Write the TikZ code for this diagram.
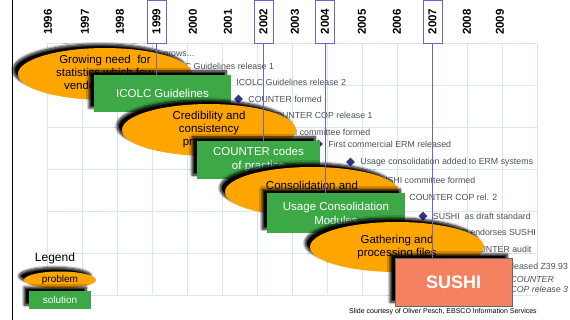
\documentclass[tikz,border=0pt]{standalone}
\usepackage{fontspec}
\setmainfont{Liberation Sans}
\usetikzlibrary{shapes.geometric,shadows.blur}

\definecolor{probfill}{RGB}{255,165,0}
\definecolor{solfill}{RGB}{60,168,70}
\definecolor{sushifill}{RGB}{244,130,96}
\definecolor{gridcol}{RGB}{214,234,238}
\definecolor{yearcol}{RGB}{102,102,204}
\definecolor{eventcol}{RGB}{78,80,92}
\definecolor{markcol}{RGB}{51,51,140}

\tikzset{
  softshadow/.style={blur shadow={shadow xshift=-5pt, shadow yshift=4pt,
      shadow blur radius=2.5pt, shadow blur steps=8, shadow opacity=100}},
  problem/.style={ellipse, fill=probfill, align=center, inner sep=0pt,
      minimum width=174pt, minimum height=50pt, softshadow,
      font=\fontsize{11.5}{13}\selectfont},
  solution/.style={rectangle, fill=solfill, text=white, align=center, inner sep=0pt,
      softshadow, font=\fontsize{11.5}{14}\selectfont},
  yearlabel/.style={rotate=90, inner sep=1pt, font=\fontsize{11.5}{12}\selectfont\bfseries},
  yearbox/.style={yearlabel, draw=yearcol, line width=0.8pt, inner sep=0pt,
      minimum width=43pt, minimum height=19pt},
  yearline/.style={yearcol, line width=0.9pt},
  gridline/.style={gridcol, line width=0.7pt},
  eventmark/.style={diamond, fill=markcol, minimum size=9pt, inner sep=0pt},
  eventtext/.style={anchor=west, text=eventcol, align=left, inner sep=2pt,
      font=\fontsize{8.8}{10.5}\selectfont},
}

\begin{document}
\begin{tikzpicture}[x=1pt, y=-1pt]
\useasboundingbox (0,0) rectangle (570,320);

% Left rule
\draw[line width=0.8pt] (12,0) -- (12,320);

% Grid
\foreach \i in {0,...,14}
    \draw[gridline] (47+35*\i, 43) -- (47+35*\i, 295);
\foreach \j in {0,...,6}
    \draw[gridline] (47, 43+42*\j) -- (537, 43+42*\j);

% Years (boxed ones mark a solution)
\foreach \yr/\x in {1996/48,1997/85,1998/120,2000/193,2001/228,2003/295,2005/362,2006/397,2008/467,2009/500}
    \node[yearlabel] (y\yr) at (\x,22) {\yr};
\foreach \yr/\x in {1999/156.5,2002/263.5,2004/325,2007/432.5}
    \node[yearbox] (y\yr) at (\x,21.5) {\yr};

% Events
\foreach \n/\x/\y/\txt in {
    1/153.5/55/{grows...},
    2/154.5/66/{ICOLC Guidelines release 1},
    3/226.5/82/{ICOLC Guidelines release 2},
    4/238.5/99/{COUNTER formed},
    5/259/115/{COUNTER COP release 1},
    6/265.5/132/{ERMI committee formed},
    7/318.5/144/{First commercial ERM released},
    8/350.5/162/{Usage consolidation added to ERM systems},
    9/365.5/180/{SUSHI committee formed},
    10/399.5/197/{COUNTER COP rel. 2},
    11/423/216/{SUSHI\ \ as draft standard},
    12/436.5/232/{NISO endorses SUSHI},
    13/456.5/249/{COUNTER audit},
    14/494.5/266/{released Z39.93},
    15/500.5/284.5/{\textit{COUNTER}\\\textit{COP release 3}}}
{
    \node[eventmark] (mk\n) at (\x,\y) {};
    \node[eventtext] (ev\n) at ([xshift=3pt]mk\n.east) {\txt};
}

% Problems and solutions
\node[problem] (needs) at (105,74) {Growing need\ \ for\\statistics which few\\vendors provide};
\node[solution, minimum width=137pt, minimum height=37pt] (icolc) at (162.5,93.5) {ICOLC Guidelines};
\node[problem] (credible) at (209,130) {Credibility and\\consistency\\processes};
\node[solution, minimum width=123pt, minimum height=38pt] (counter) at (258.5,160) {COUNTER codes\\of practice};
\node[problem] (consol) at (312,192) {Consolidation and\\normalization};
\node[solution, minimum width=138pt, minimum height=40pt] (usage) at (336,213) {Usage Consolidation\\Modules};
\node[problem] (gather) at (397,247) {Gathering and\\processing files};
\node[solution, fill=sushifill, draw=black!60, line width=0.6pt, minimum width=117pt, minimum height=48pt,
      font=\fontsize{18}{20}\selectfont\bfseries] (sushi) at (453.5,282) {SUSHI};

% Year markers down to their solution
\draw[yearline] (y1999.west) -- (y1999.west |- icolc.north);
\draw[yearline] (y2002.west) -- (y2002.west |- counter.north);
\draw[yearline] (y2004.west) -- (y2004.west |- usage.north);
\draw[yearline] (y2007.west) -- (y2007.west |- sushi.north);

% Legend
\node[font=\fontsize{12}{14}\selectfont] (legend) at (55,258) {Legend};
\node[problem, minimum width=72pt, minimum height=17pt, font=\fontsize{10}{12}\selectfont] (legprob) at (60,280) {problem};
\node[solution, minimum width=62pt, minimum height=18pt, font=\fontsize{10}{12}\selectfont] (legsol) at (60,300) {solution};

\node[anchor=west, inner sep=0pt, font=\fontsize{7}{8}\selectfont] (credit) at (349,312)
    {Slide courtesy of Oliver Pesch, EBSCO Information Services};

\end{tikzpicture}
\end{document}
